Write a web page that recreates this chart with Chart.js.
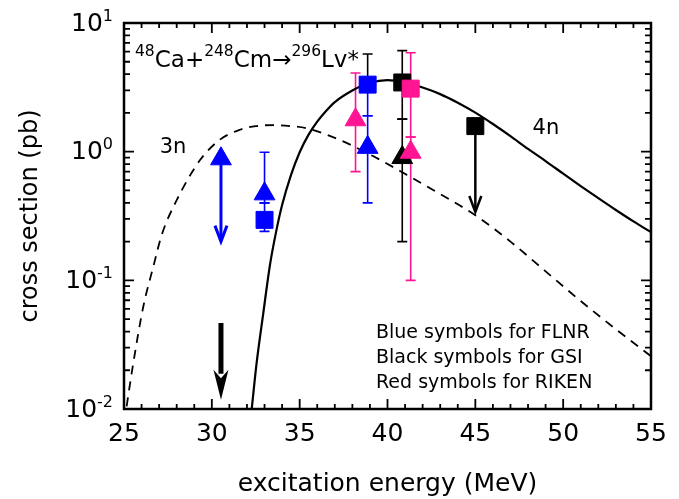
<!DOCTYPE html>
<html>
<head>
<meta charset="utf-8">
<script src="https://cdn.jsdelivr.net/npm/chart.js@4.4.1/dist/chart.umd.min.js"></script>
<style>
html,body{margin:0;padding:0;background:#ffffff;}
#wrap{width:679px;height:499px;position:relative;}
</style>
</head>
<body>
<div id="wrap"><canvas id="c" width="679" height="499"></canvas></div>
<script>
// ---------- data ----------
const curve4nE = [32.27, 32.55, 32.93, 33.31, 33.69, 34.0, 34.5, 35.0, 35.5, 36.0, 36.5, 37.0, 38.0, 39.0, 40.0, 41.0, 42.0, 43.0, 44.0, 45.0, 46.0, 47.0, 48.0, 49.0, 50.0, 51.0, 52.0, 53.0, 54.0, 55.0];
const curve4nS = [0.0100, 0.0228, 0.0557, 0.132, 0.25, 0.385, 0.655, 0.99, 1.35, 1.71, 2.07, 2.43, 2.99, 3.43, 3.60, 3.44, 3.15, 2.80, 2.40, 2.01, 1.64, 1.32, 1.05, 0.845, 0.675, 0.54, 0.435, 0.352, 0.287, 0.237];

const curve3nE = [25.15, 25.53, 26.1, 26.67, 27.15, 28.0, 29.33, 30.46, 31.6, 32.5, 33.5, 34.5, 35.4, 37.3, 39.2, 41.1, 43.0, 45.07, 47.0, 49.0, 51.0, 53.0, 55.0];
const curve3nS = [0.0105, 0.0228, 0.0626, 0.128, 0.226, 0.42, 0.86, 1.24, 1.48, 1.58, 1.61, 1.58, 1.52, 1.23, 0.92, 0.66, 0.468, 0.316, 0.200, 0.1175, 0.069, 0.0417, 0.0257];

// FLNR (blue)
const flnrSqE = [33.0, 38.87];
const flnrSqS = [0.295, 3.32];
const flnrSqLo = [0.24, 1.90];
const flnrSqHi = [0.40, 5.74];
const flnrTriE = [30.52, 33.0, 38.87];
const flnrTriS = [0.88, 0.47, 1.08];
const flnrTriLo = [0.88, 0.40, 0.40];
const flnrTriHi = [0.88, 0.99, 1.90];

// GSI (black)
const gsiSqE = [40.84, 45.0];
const gsiSqS = [3.45, 1.58];
const gsiSqLo = [1.79, 1.58];
const gsiSqHi = [6.10, 1.58];
const gsiTriE = [40.84];
const gsiTriS = [0.90];
const gsiTriLo = [0.20];
const gsiTriHi = [1.79];

// RIKEN (pink)
const rikenSqE = [41.32];
const rikenSqS = [3.09];
const rikenSqLo = [1.30];
const rikenSqHi = [5.87];
const rikenTriE = [38.18, 41.32];
const rikenTriS = [1.77, 0.99];
const rikenTriLo = [0.70, 0.10];
const rikenTriHi = [4.09, 1.30];

// upper-limit arrows
const limitE = [30.52, 45.0, 30.52];
const limitFrom = [0.88, 1.58, 0.0466];
const limitTo = [0.20, 0.34, 0.0118];

// axes
const yTickVals = [0.01, 0.1, 1, 10];
const yTickExp = ['-2', '-1', '0', '1'];
const xMin = 25, xMax = 55, xStep = 5;
const yMin = 0.01, yMax = 10;

const legendLines = ['Blue symbols for FLNR', 'Black symbols for GSI', 'Red symbols for RIKEN'];

// ---------- styles ----------
const FONT = "'DejaVu Sans', sans-serif";
const BLUE = '#0000ff', BLACK = '#000000', PINK = '#ff1493';

function pts(xs, ys) { return xs.map((v, i) => ({x: v, y: ys[i]})); }

const errorGroups = [
  {e: flnrSqE, v: flnrSqS, lo: flnrSqLo, hi: flnrSqHi, color: BLUE, upColor: [BLUE, BLACK]},
  {e: flnrTriE, v: flnrTriS, lo: flnrTriLo, hi: flnrTriHi, color: BLUE},
  {e: gsiSqE, v: gsiSqS, lo: gsiSqLo, hi: gsiSqHi, color: BLACK},
  {e: gsiTriE, v: gsiTriS, lo: gsiTriLo, hi: gsiTriHi, color: BLACK},
  {e: rikenSqE, v: rikenSqS, lo: rikenSqLo, hi: rikenSqHi, color: PINK},
  {e: rikenTriE, v: rikenTriS, lo: rikenTriLo, hi: rikenTriHi, color: PINK}
];
const arrowStyles = [
  {color: BLUE, lw: 3, hw: 6, hl: 16, filled: false},
  {color: BLACK, lw: 2.5, hw: 6, hl: 16, filled: false},
  {color: BLACK, lw: 5, hw: 7.5, hl: 30, filled: true}
];

const overlay = {
  id: 'overlay',
  beforeDatasetsDraw(chart) {
    const {ctx, scales: {x, y}} = chart;
    ctx.save();
    ctx.lineCap = 'butt';
    errorGroups.forEach(g => {
      for (let i = 0; i < g.e.length; i++) {
        const px = x.getPixelForValue(g.e[i]);
        const pv = y.getPixelForValue(g.v[i]);
        const bars = [[y.getPixelForValue(g.hi[i]), g.upColor ? g.upColor[i] : g.color],
                      [y.getPixelForValue(g.lo[i]), g.color]];
        bars.forEach(([pe, col]) => {
          if (Math.abs(pe - pv) < 0.5) return;
          ctx.strokeStyle = col;
          ctx.lineWidth = 1.6;
          ctx.beginPath();
          ctx.moveTo(px, pv); ctx.lineTo(px, pe);
          ctx.moveTo(px - 5, pe); ctx.lineTo(px + 5, pe);
          ctx.stroke();
        });
      }
    });
    for (let i = 0; i < limitE.length; i++) {
      const s = arrowStyles[i];
      const px = x.getPixelForValue(limitE[i]);
      const p0 = y.getPixelForValue(limitFrom[i]);
      const p1 = y.getPixelForValue(limitTo[i]);
      ctx.strokeStyle = s.color; ctx.fillStyle = s.color; ctx.lineWidth = s.lw;
      if (s.filled) {
        ctx.beginPath(); ctx.moveTo(px, p0); ctx.lineTo(px, p1 - s.hl + 4); ctx.stroke();
        ctx.beginPath();
        ctx.moveTo(px, p1);
        ctx.lineTo(px - s.hw, p1 - s.hl);
        ctx.lineTo(px, p1 - s.hl * 0.72);
        ctx.lineTo(px + s.hw, p1 - s.hl);
        ctx.closePath(); ctx.fill();
      } else {
        ctx.beginPath(); ctx.moveTo(px, p0); ctx.lineTo(px, p1 - 1); ctx.stroke();
        ctx.lineJoin = 'miter';
        ctx.beginPath();
        ctx.moveTo(px - s.hw, p1 - s.hl);
        ctx.lineTo(px, p1);
        ctx.lineTo(px + s.hw, p1 - s.hl);
        ctx.stroke();
      }
    }
    ctx.restore();
  },
  afterDatasetsDraw(chart) {
    const {ctx, chartArea: a, scales: {x, y}} = chart;
    ctx.save();
    ctx.strokeStyle = BLACK;
    ctx.lineWidth = 2.5;
    ctx.strokeRect(a.left, a.top, a.right - a.left, a.bottom - a.top);
    ctx.lineWidth = 1.8;
    ctx.beginPath();
    for (let v = xMin; v <= xMax + 1e-9; v += 1) {
      const px = x.getPixelForValue(v);
      const len = (Math.round(v) % xStep === 0) ? 10 : 5;
      ctx.moveTo(px, a.bottom); ctx.lineTo(px, a.bottom - len);
      ctx.moveTo(px, a.top); ctx.lineTo(px, a.top + len);
    }
    for (let d = -2; d < 1; d++) {
      for (let m = 1; m <= 9; m++) {
        const v = m * Math.pow(10, d);
        const py = y.getPixelForValue(v);
        const len = (m === 1) ? 10 : 6;
        ctx.moveTo(a.left, py); ctx.lineTo(a.left + len, py);
        ctx.moveTo(a.right, py); ctx.lineTo(a.right - len, py);
      }
    }
    ctx.stroke();
    ctx.fillStyle = BLACK;
    yTickVals.forEach((v, i) => {
      const py = y.getPixelForValue(v);
      ctx.font = '16px ' + FONT;
      ctx.textAlign = 'right';
      ctx.textBaseline = 'alphabetic';
      const ew = ctx.measureText(yTickExp[i]).width;
      ctx.fillText(yTickExp[i], a.left - 11, py - 2.5);
      ctx.font = '25px ' + FONT;
      ctx.textBaseline = 'middle';
      ctx.fillText('10', a.left - 11 - ew, py + 1);
    });
    const segs = [['48', 1], ['Ca', 0], ['+', 0], ['248', 1], ['Cm', 0], ['\u2192', 0], ['296', 1], ['Lv*', 0]];
    let tx = 135;
    const base = 67;
    ctx.textAlign = 'left';
    ctx.textBaseline = 'alphabetic';
    segs.forEach(([t, sup]) => {
      ctx.font = (sup ? '15.5px ' : '23px ') + FONT;
      ctx.fillText(t, tx, sup ? base - 11 : base);
      tx += ctx.measureText(t).width;
    });
    ctx.font = '21px ' + FONT;
    ctx.textAlign = 'center';
    ctx.textBaseline = 'middle';
    ctx.fillText('3n', x.getPixelForValue(27.79), y.getPixelForValue(1.07));
    ctx.fillText('4n', x.getPixelForValue(49.02), y.getPixelForValue(1.50));
    ctx.font = '19px ' + FONT;
    ctx.textAlign = 'left';
    legendLines.forEach((t, i) => ctx.fillText(t, 376, 333 + i * 25));
    ctx.restore();
  }
};

const markerBase = {type: 'scatter', showLine: false, pointRadius: 12, pointHoverRadius: 12, borderWidth: 1};

new Chart(document.getElementById('c'), {
  type: 'scatter',
  data: {
    datasets: [
      {label: '4n', type: 'line', data: pts(curve4nE, curve4nS), borderColor: BLACK, borderWidth: 2.2, pointRadius: 0, cubicInterpolationMode: 'monotone', fill: false, order: 10},
      {label: '3n', type: 'line', data: pts(curve3nE, curve3nS), borderColor: BLACK, borderWidth: 1.8, borderDash: [9, 7], pointRadius: 0, cubicInterpolationMode: 'monotone', fill: false, order: 10},
      Object.assign({}, markerBase, {label: 'FLNR squares', data: pts(flnrSqE, flnrSqS), pointStyle: 'rect', backgroundColor: BLUE, borderColor: BLUE, order: 6}),
      Object.assign({}, markerBase, {label: 'FLNR triangles', data: pts(flnrTriE, flnrTriS), pointStyle: 'triangle', backgroundColor: BLUE, borderColor: BLUE, order: 5}),
      Object.assign({}, markerBase, {label: 'GSI squares', data: pts(gsiSqE, gsiSqS), pointStyle: 'rect', backgroundColor: BLACK, borderColor: BLACK, order: 4}),
      Object.assign({}, markerBase, {label: 'GSI triangles', data: pts(gsiTriE, gsiTriS), pointStyle: 'triangle', backgroundColor: BLACK, borderColor: BLACK, order: 3}),
      Object.assign({}, markerBase, {label: 'RIKEN squares', data: pts(rikenSqE, rikenSqS), pointStyle: 'rect', backgroundColor: PINK, borderColor: PINK, order: 2}),
      Object.assign({}, markerBase, {label: 'RIKEN triangles', data: pts(rikenTriE, rikenTriS), pointStyle: 'triangle', backgroundColor: PINK, borderColor: PINK, order: 1})
    ]
  },
  options: {
    responsive: false,
    devicePixelRatio: 1,
    animation: false,
    layout: {padding: {top: 23, right: 28, left: 0, bottom: 0}},
    plugins: {legend: {display: false}, tooltip: {enabled: false}},
    scales: {
      x: {
        type: 'linear', min: xMin, max: xMax,
        border: {display: false},
        grid: {display: false, drawTicks: false},
        ticks: {stepSize: xStep, color: BLACK, font: {family: FONT, size: 25}, padding: 10, maxRotation: 0, autoSkip: false},
        title: {display: true, text: 'excitation energy (MeV)', color: BLACK, font: {family: FONT, size: 25}, padding: {top: 0, bottom: 0}},
        afterFit: s => { s.height = 90; }
      },
      y: {
        type: 'logarithmic', min: yMin, max: yMax,
        border: {display: false},
        grid: {display: false, drawTicks: false},
        ticks: {display: false},
        title: {display: true, text: 'cross section (pb)', color: BLACK, font: {family: FONT, size: 24}, padding: {top: 16, bottom: 0}},
        afterFit: s => { s.width = 124; }
      }
    }
  },
  plugins: [overlay]
});
</script>
</body>
</html>
